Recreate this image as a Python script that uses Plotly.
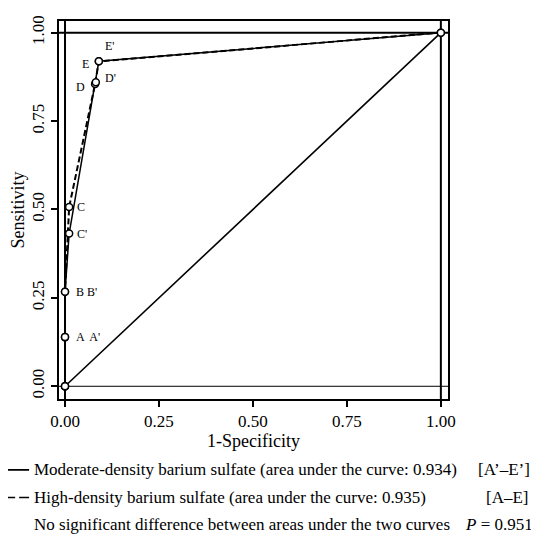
import plotly.graph_objects as go

# ROC data
fpr_high = [0.0, 0.0, 0.0, 0.0, 0.011, 0.08, 0.09, 1.0]
tpr_high = [0.0, 0.0, 0.139, 0.267, 0.507, 0.855, 0.919, 1.0]
fpr_mod = [0.0, 0.0, 0.0, 0.0, 0.011, 0.082, 0.09, 1.0]
tpr_mod = [0.0, 0.0, 0.139, 0.267, 0.432, 0.86, 0.919, 1.0]
ref_x = [0.0, 1.0]
ref_y = [0.0, 1.0]

# point labels: (text, x, y)
lbl_text = ["A  A'", "B B'", "C", "C'", "D", "D'", "E", "E'"]
lbl_x = [0.0, 0.0, 0.011, 0.011, 0.08, 0.082, 0.09, 0.09]
lbl_y = [0.139, 0.267, 0.507, 0.432, 0.855, 0.86, 0.919, 0.919]
lbl_dx = [9, 9, 6, 6, -8, 7, -8, 4]
lbl_dy = [0, 0, 0, 0, -3, 4, -3, 15]
lbl_anchor = ["left", "left", "left", "left", "right", "left", "right", "left"]

xticks = [0.0, 0.25, 0.5, 0.75, 1.0]
xtick_text = ["0.00", "0.25", "0.50", "0.75", "1.00"]
yticks = [0.0, 0.25, 0.5, 0.75, 1.0]
ytick_text = ["0.00", "0.25", "0.50", "0.75", "1.00"]

legend_lines = [
    "Moderate-density barium sulfate (area under the curve: 0.934)",
    "High-density barium sulfate (area under the curve: 0.935)",
    "No significant difference between areas under the two curves",
]
legend_tags = ["[A\u2019\u2013E\u2019]", "[A\u2013E]", "<i>P</i> = 0.951"]

FONT = "Liberation Serif"

fig = go.Figure()
fig.add_trace(go.Scatter(x=ref_x, y=ref_y, mode="lines",
                         line=dict(color="black", width=1.6), hoverinfo="skip"))
fig.add_trace(go.Scatter(x=fpr_mod, y=tpr_mod, mode="lines",
                         line=dict(color="black", width=1.5)))
fig.add_trace(go.Scatter(x=fpr_high, y=tpr_high, mode="lines",
                         line=dict(color="black", width=2, dash="6px,3px")))
fig.add_trace(go.Scatter(x=fpr_high + fpr_mod, y=tpr_high + tpr_mod, mode="markers",
                         marker=dict(symbol="circle", size=7, color="white",
                                     line=dict(color="black", width=1.5))))

# reference lines at 0 and 1
for v, w in [(0, 1.0), (1, 2.0)]:
    fig.add_shape(type="line", xref="paper", yref="y", x0=0, x1=1, y0=v, y1=v,
                  line=dict(color="black", width=w), layer="below")
for v in [0, 1]:
    fig.add_shape(type="line", xref="x", yref="paper", x0=v, x1=v, y0=0, y1=1,
                  line=dict(color="black", width=2), layer="below")

for t, x, y, dx, dy, a in zip(lbl_text, lbl_x, lbl_y, lbl_dx, lbl_dy, lbl_anchor):
    fig.add_annotation(x=x, y=y, text=t, showarrow=False, xshift=dx, yshift=dy,
                       xanchor=a, yanchor="middle",
                       font=dict(family=FONT, size=12, color="black"))

# page body has an 8px margin: figure is 8px smaller, coordinates below are window pixels
W, H = 531, 528
L, R, T, B = 50, 91, 7, 137
pw, ph = W - L - R, H - T - B

def px(x):
    return (x - 8 - L) / pw

def py(y):
    return (H - B - (y - 8)) / ph

rows_y = [471, 499, 526]
fig.add_shape(type="line", xref="paper", yref="paper", x0=px(0), x1=px(28),
              y0=py(rows_y[0]), y1=py(rows_y[0]), line=dict(color="black", width=1.8))
fig.add_shape(type="line", xref="paper", yref="paper", x0=px(3), x1=px(28),
              y0=py(rows_y[1]), y1=py(rows_y[1]),
              line=dict(color="black", width=1.5, dash="11px,4px"))
tag_x = [532, 484, 535]
tag_anchor = ["right", "left", "right"]
for i, (txt, tag) in enumerate(zip(legend_lines, legend_tags)):
    fig.add_annotation(xref="paper", yref="paper", x=px(31), y=py(rows_y[i]),
                       text=txt, showarrow=False, xanchor="left", yanchor="middle",
                       font=dict(family=FONT, size=17, color="black"))
    fig.add_annotation(xref="paper", yref="paper", x=px(tag_x[i]), y=py(rows_y[i]),
                       text=tag, showarrow=False, xanchor=tag_anchor[i], yanchor="middle",
                       font=dict(family=FONT, size=17, color="black"))

fig.update_layout(
    width=W, height=H,
    margin=dict(l=L, r=R, t=T, b=B),
    plot_bgcolor="white", paper_bgcolor="white",
    showlegend=False,
    font=dict(family=FONT, size=17, color="black"),
    xaxis=dict(range=[-0.016, 1.019], tickvals=xticks, ticktext=xtick_text,
               showgrid=False, zeroline=False, showline=True, mirror=True,
               linecolor="black", linewidth=2, ticks="outside", ticklen=6,
               tickwidth=2, tickcolor="black",
               title=dict(text="1-Specificity", standoff=0,
                          font=dict(family=FONT, size=18))),
    yaxis=dict(range=[-0.036, 1.033], tickvals=yticks, ticktext=ytick_text,
               tickangle=-90,
               showgrid=False, zeroline=False, showline=True, mirror=True,
               linecolor="black", linewidth=2, ticks="outside", ticklen=6,
               tickwidth=2, tickcolor="black",
               title=dict(text="Sensitivity", standoff=2,
                          font=dict(family=FONT, size=18))),
)

fig.write_html("out.html")
